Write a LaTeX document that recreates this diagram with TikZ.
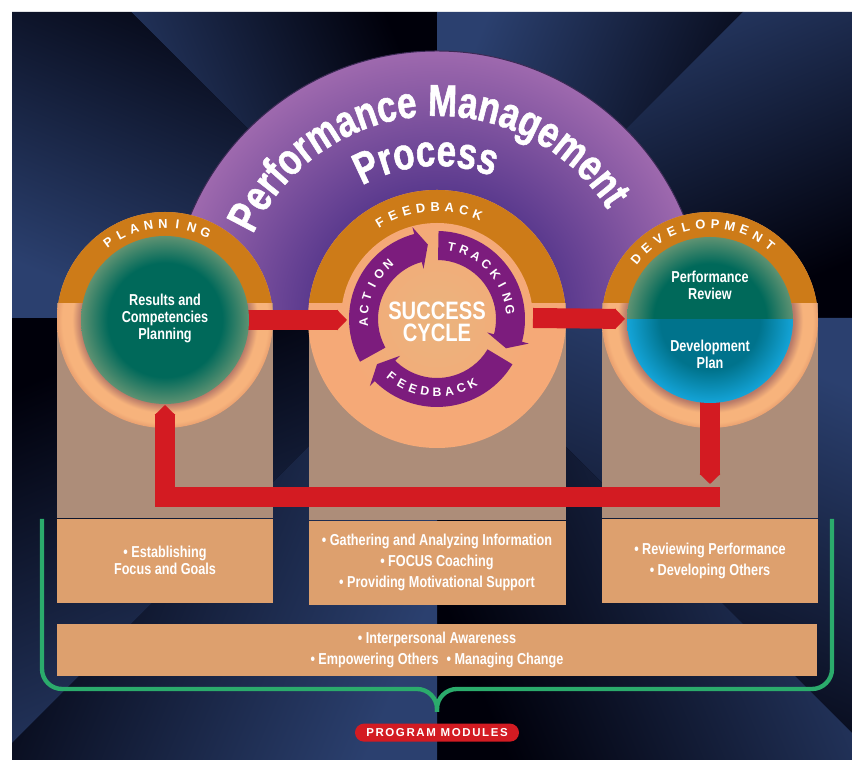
\documentclass[tikz,border=0pt]{standalone}
\usepackage{fontspec}
\setmainfont{Liberation Sans}
\newfontfamily\condensed[FakeStretch=0.8]{Liberation Sans}
\newfontfamily\heavy[FakeStretch=0.78, FakeBold=1.2]{Liberation Sans Bold}
\newfontfamily\spaced[LetterSpace=14]{Liberation Sans}
\usetikzlibrary{calc, positioning, arrows.meta, decorations.text}

\definecolor{bglight}{HTML}{2B406F}
\definecolor{bgdark}{HTML}{00000A}
\definecolor{domein}{HTML}{5B3A8E}
\definecolor{domeout}{HTML}{9E69AE}
\definecolor{domeedge}{HTML}{3C2A55}
\definecolor{ringorange}{HTML}{CD7B18}
\definecolor{peach}{HTML}{F7B37C}
\definecolor{peachrim}{HTML}{E9A070}
\definecolor{ringdeep}{HTML}{B97A68}
\definecolor{columntan}{HTML}{AD8D79}
\definecolor{boxtan}{HTML}{DDA06E}
\definecolor{flowred}{HTML}{D31B22}
\definecolor{bracegreen}{HTML}{2BAB6C}
\definecolor{cyclepurple}{HTML}{7C1C7D}
\definecolor{greenin}{HTML}{00695A}
\definecolor{greenout}{HTML}{5E9272}
\definecolor{bluein}{HTML}{00738C}
\definecolor{blueout}{HTML}{14A4D8}
\definecolor{fbin}{HTML}{EAB47E}
\definecolor{fbout}{HTML}{F5A977}

\pgfdeclareradialshading{domeshade}{\pgfpoint{0bp}{0bp}}{color(0bp)=(domein); color(12bp)=(domein); color(25bp)=(domeout); color(50bp)=(domeout)}
\pgfdeclareradialshading{ringshade}{\pgfpoint{0bp}{0bp}}{color(0bp)=(ringdeep); color(19.4bp)=(ringdeep); color(21.5bp)=(peach); color(23.8bp)=(peach); color(25bp)=(peachrim); color(50bp)=(peachrim)}
\pgfdeclareradialshading{greenshade}{\pgfpoint{0bp}{0bp}}{color(0bp)=(greenin); color(17bp)=(greenin); color(25bp)=(greenout); color(50bp)=(greenout)}
\pgfdeclareradialshading{blueshade}{\pgfpoint{0bp}{0bp}}{color(0bp)=(bluein); color(15bp)=(bluein); color(25bp)=(blueout); color(50bp)=(blueout)}
\pgfdeclareradialshading{coreshade}{\pgfpoint{0bp}{0bp}}{color(0bp)=(fbin); color(25bp)=(fbout); color(50bp)=(fbout)}

\newcommand\titlefont{\heavy\fontsize{38}{40}\selectfont}

\tikzset{
    column/.style={rectangle, fill=columntan, inner sep=0pt},
    module/.style={rectangle, fill=boxtan, minimum height=25.2mm, inner sep=0pt,
                   align=center, text=white, font=\condensed\bfseries\fontsize{13.5}{18}\selectfont},
    coretext/.style={align=center, text=white, inner sep=0pt,
                     font=\condensed\bfseries\fontsize{13.5}{14.5}\selectfont},
    cycletitle/.style={align=center, text=white, inner sep=0pt,
                       font=\condensed\bfseries\fontsize{21.5}{18.7}\selectfont},
    ringletter/.style={text=white, inner sep=0pt, font=\bfseries\fontsize{11}{12}\selectfont},
    cycleletter/.style={text=white, inner sep=0pt, font=\bfseries\fontsize{10.5}{11}\selectfont},
    flow/.style={draw=flowred, line width=6mm, -{Triangle[length=3mm, width=6mm]}},
    cyclearrow/.style={fill=cyclepurple},
    modbrace/.style={draw=bracegreen, line width=1.3mm},
    pill/.style={fill=flowred, text=white, rounded corners=2.7mm, minimum width=49.2mm,
                 minimum height=5.4mm, inner sep=0pt, font=\spaced\bfseries\fontsize{9.8}{11}\selectfont},
}

\begin{document}
\begin{tikzpicture}[x=0.3mm, y=0.3mm]

    \useasboundingbox (0,0) rectangle (852,760);
    \fill[white] (0,0) rectangle (852,760);
    \fill[bgdark] (12,0) rectangle (852,748);

    % ── BACKDROP ──
    \coordinate (V) at (437,442);
    \shade[top color=bglight, bottom color=bgdark, shading angle=112.5] (V) -- (131,748) -- (437,748) -- cycle;
    \shade[top color=bglight, bottom color=bgdark, shading angle=67.5] (V) -- (437,748) -- (743,748) -- cycle;
    \shade[top color=bglight, bottom color=bgdark, shading angle=22.5] (V) -- (743,748) -- (852,748) -- (852,442) -- cycle;
    \shade[top color=bglight, bottom color=bgdark, shading angle=-22.5] (V) -- (852,442) -- (852,27) -- cycle;
    \shade[top color=bglight, bottom color=bgdark, shading angle=-67.5] (V) -- (852,27) -- (852,0) -- (437,0) -- cycle;
    \shade[top color=bglight, bottom color=bgdark, shading angle=-112.5] (V) -- (437,0) -- (12,0) -- (12,17) -- cycle;
    \shade[top color=bglight, bottom color=bgdark, shading angle=-157.5] (V) -- (12,17) -- (12,442) -- cycle;
    \shade[top color=bglight, bottom color=bgdark, shading angle=157.5] (V) -- (12,442) -- (12,748) -- (131,748) -- cycle;

    % ── DOME ──
    \begin{scope}
        \clip (12,442) rectangle (852,760);
        \shadedraw[shading=domeshade, draw=domeedge, line width=0.3mm] (V) circle (267);
    \end{scope}

    \coordinate (P) at (165,440);
    \coordinate (F) at (437,441);
    \coordinate (D) at (710,440);

    % ── COLUMNS ──
    \node[column, minimum width=64.8mm, minimum height=64.5mm, anchor=north] (plancol) at ($(P)+(0,17)$) {};
    \node[column, minimum width=77.1mm, minimum height=65.1mm, anchor=north] (fbcol) at ($(F)+(0,16)$) {};
    \node[column, minimum width=64.8mm, minimum height=64.5mm, anchor=north] (devcol) at ($(D)+(0,17)$) {};

    % ── RINGS ──
    \shade[shading=ringshade] (P) circle (108);
    \begin{scope}
        \clip ($(P)+(-110,17)$) rectangle ($(P)+(110,110)$);
        \fill[ringorange] (P) circle (108);
    \end{scope}

    \fill[fbout] (F) circle (129);
    \begin{scope}
        \clip ($(F)+(-131,16)$) rectangle ($(F)+(131,131)$);
        \fill[ringorange] (F) circle (129);
    \end{scope}
    \shade[shading=coreshade] (F) circle (96);

    \shade[shading=ringshade] (D) circle (108);
    \begin{scope}
        \clip ($(D)+(-110,17)$) rectangle ($(D)+(110,110)$);
        \fill[ringorange] (D) circle (108);
    \end{scope}

    % ── FLOW ARROWS ──
    \draw[flow] (P) -- ($(F)+(-90,-1)$);
    \draw[flow] ($(F)+(96,1)$) -- ($(D)+(-85,1)$);
    \draw[flow] (D) -- ($(D)+(0,-164)$);
    \draw[flow] ($(D)+(10,-177)$) -| ($(P)+(0,-85)$);

    % ── CORES ──
    \shade[shading=greenshade] (P) circle (84);
    \begin{scope}
        \clip ($(D)+(-90,0)$) rectangle ($(D)+(90,90)$);
        \shade[shading=greenshade] (D) circle (83);
    \end{scope}
    \begin{scope}
        \clip ($(D)+(-90,0)$) rectangle ($(D)+(90,-90)$);
        \shade[shading=blueshade] (D) circle (83);
    \end{scope}

    \node[coretext] (results) at ($(P)+(0,2)$) {Results and\\Competencies\\Planning};
    \node[coretext] (review) at ($(D)+(0,35)$) {Performance\\Review};
    \node[coretext] (devplan) at ($(D)+(0,-34)$) {Development\\Plan};

    % ── SUCCESS CYCLE ──
    \fill[cyclearrow] ($(F)+(209:88)$) arc[start angle=209, end angle=105, radius=88]
        -- ($(F)+(105:95)$) -- ($(F)+(97:75)$) -- ($(F)+(105:52)$)
        -- ($(F)+(105:59)$) arc[start angle=105, end angle=209, radius=59] -- cycle;
    \fill[cyclearrow] ($(F)+(89:88)$) arc[start angle=89, end angle=-15, radius=88]
        -- ($(F)+(-15:95)$) -- ($(F)+(-23:75)$) -- ($(F)+(-15:52)$)
        -- ($(F)+(-15:59)$) arc[start angle=-15, end angle=89, radius=59] -- cycle;
    \fill[cyclearrow] ($(F)+(-31:88)$) arc[start angle=-31, end angle=-135, radius=88]
        -- ($(F)+(-135:95)$) -- ($(F)+(-143:75)$) -- ($(F)+(-135:52)$)
        -- ($(F)+(-135:59)$) arc[start angle=-135, end angle=-31, radius=59] -- cycle;

    \node[cycletitle] (success) at ($(F)+(0,-3)$) {SUCCESS\\CYCLE};

    \foreach \ch [count=\i] in {A,C,T,I,O,N} {
        \pgfmathsetmacro\ang{182.7-(\i-1)*10.2}
        \node[cycleletter, rotate=\ang-90] (act\i) at ($(F)+(\ang:73.5)$) {\ch};
    }
    \foreach \ch [count=\i] in {T,R,A,C,K,I,N,G} {
        \pgfmathsetmacro\ang{78.5-(\i-1)*10.2}
        \node[cycleletter, rotate=\ang-90] (trk\i) at ($(F)+(\ang:73.5)$) {\ch};
    }
    \foreach \ch [count=\i] in {F,E,E,D,B,A,C,K} {
        \pgfmathsetmacro\ang{231.8+(\i-1)*9.56}
        \node[cycleletter, rotate=\ang+90] (fbk\i) at ($(F)+(\ang:73.5)$) {\ch};
    }

    % ── RING LABELS ──
    \foreach \ch [count=\i] in {P,L,A,N,N,I,N,G} {
        \pgfmathsetmacro\ang{126.2-(\i-1)*8.74}
        \node[ringletter, rotate=\ang-90] (plan\i) at ($(P)+(\ang:96)$) {\ch};
    }
    \foreach \ch [count=\i] in {F,E,E,D,B,A,C,K} {
        \pgfmathsetmacro\ang{120.6-(\i-1)*7.41}
        \node[ringletter, rotate=\ang-90] (feed\i) at ($(F)+(\ang:112)$) {\ch};
    }
    \foreach \ch [count=\i] in {D,E,V,E,L,O,P,M,E,N,T} {
        \pgfmathsetmacro\ang{140.3-(\i-1)*8.9}
        \node[ringletter, rotate=\ang-90] (dev\i) at ($(D)+(\ang:96)$) {\ch};
    }

    % ── PROGRAM MODULES ──
    \node[module, minimum width=64.8mm, below=0pt of plancol,
          font=\condensed\bfseries\fontsize{13.5}{14.5}\selectfont] (planmod) {• Establishing\\Focus and Goals};
    \node[module, minimum width=77.1mm, below=0pt of fbcol] (fbmod)
        {• Gathering and Analyzing Information\\• FOCUS Coaching\\• Providing Motivational Support};
    \node[module, minimum width=64.8mm, below=0pt of devcol] (devmod) {• Reviewing Performance\\• Developing Others};
    \node[module, minimum width=228mm, minimum height=15.6mm, below=5.7mm of fbmod] (skillmod)
        {• Interpersonal Awareness\\• Empowering Others\enspace• Managing Change};

    \draw[modbrace] (42,241) -- (42,91) arc[start angle=180, end angle=270, radius=20]
        -- (417,71) arc[start angle=90, end angle=0, radius=20] -- (437,48);
    \draw[modbrace] (832,241) -- (832,91) arc[start angle=0, end angle=-90, radius=20]
        -- (457,71) arc[start angle=90, end angle=180, radius=20] -- (437,48);

    \node[pill, below=14.1mm of skillmod] (modules) {PROGRAM MODULES};

    % ── TITLE ──
    \path[decorate, decoration={text along path, text color=white, text align=center,
        text={|\titlefont|Performance Management}}]
        ($(V)+(170:202)$) arc[start angle=170, end angle=18, radius=202];
    \path[decorate, decoration={text along path, text color=white, text align=center,
        text={|\titlefont|Process}}]
        ($(V)+(140:152)$) arc[start angle=140, end angle=48, radius=152];

\end{tikzpicture}
\end{document}
